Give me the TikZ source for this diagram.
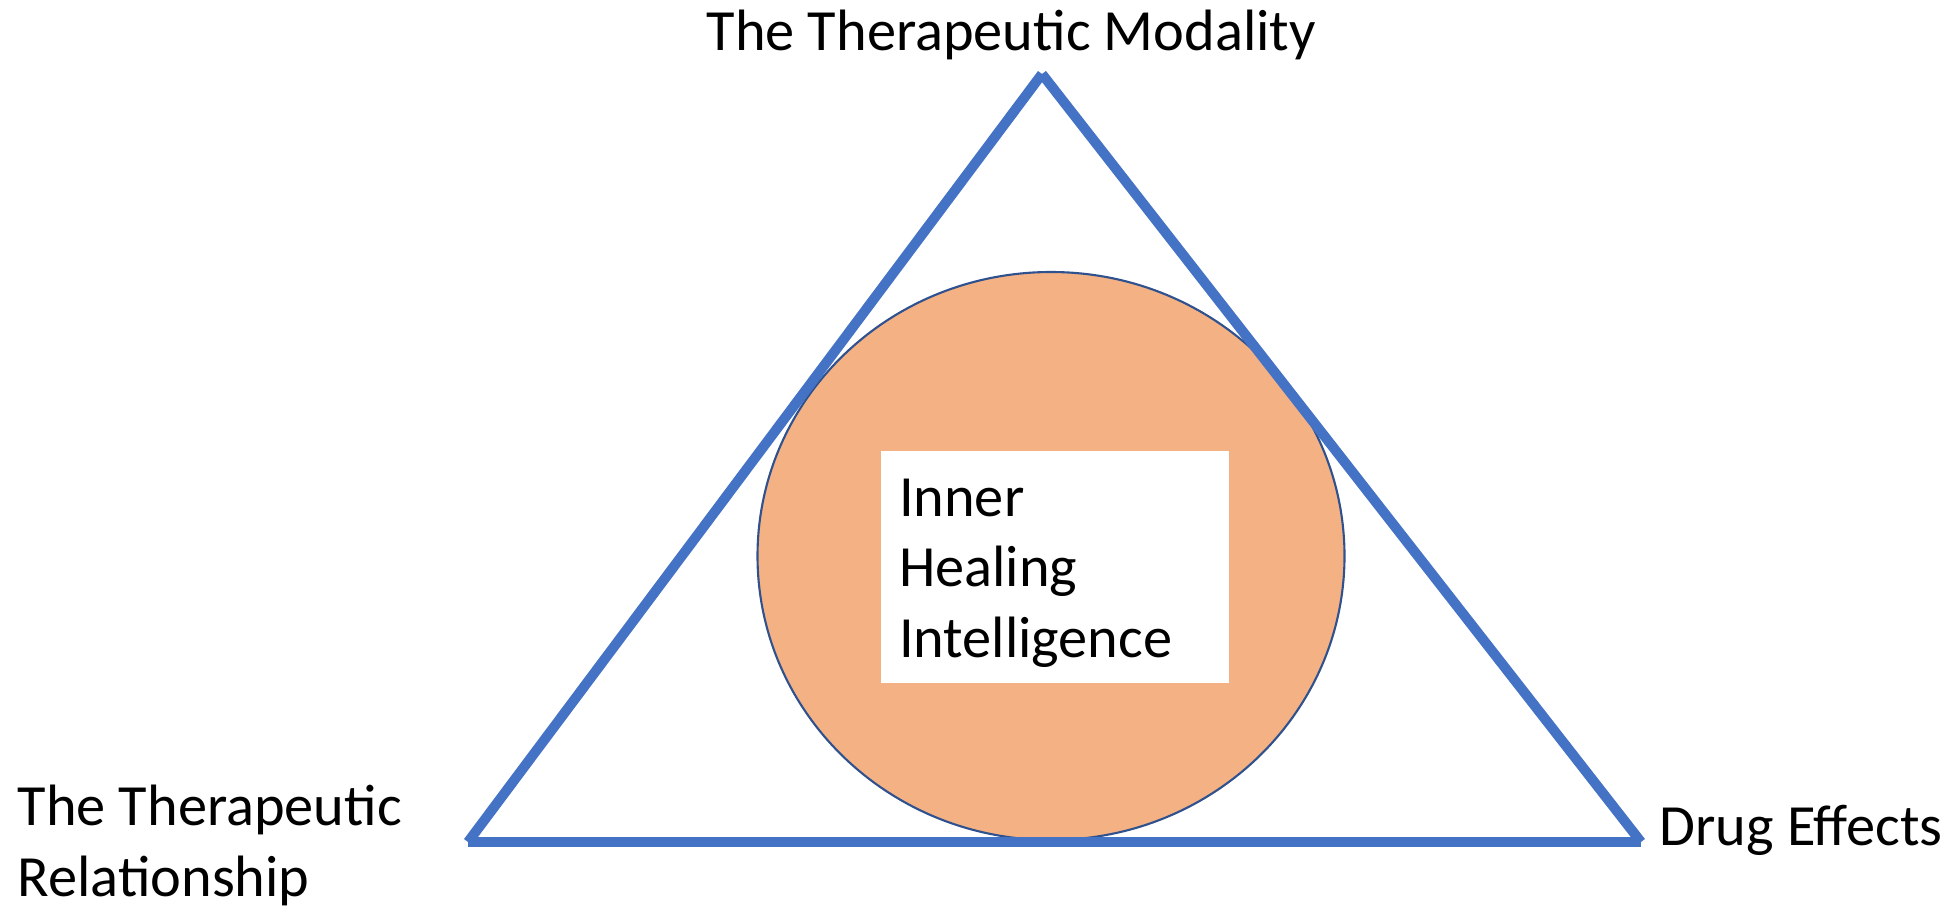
\documentclass[tikz,border=0pt]{standalone}
\usepackage{fontspec}
\setmainfont{Carlito}
\definecolor{triblue}{HTML}{4472C4}
\definecolor{ihiorange}{HTML}{F4B183}
\definecolor{ihiline}{HTML}{2F528F}
\begin{document}
\begin{tikzpicture}[every node/.style={font=\fontsize{16.6}{20.2}\selectfont, inner sep=0pt},
	side/.style={triblue, line width=2.85pt}]
	\useasboundingbox (0,0) rectangle (19.52,9.08);
	\coordinate (apex) at (10.42,8.34);
	\coordinate (baseleft) at (4.68,0.66);
	\coordinate (baseright) at (16.41,0.66);
	\draw[ihiline, fill=ihiorange, line width=0.6pt] (10.51,3.52) ellipse (2.935 and 2.84);
	\draw[side] (baseleft) -- (apex);
	\draw[side] (apex) -- (baseright);
	\draw[side] (baseleft) -- (baseright);
	\node[fill=white, minimum width=3.48cm, minimum height=2.32cm, text width=3.12cm, align=left] (ihi) at (10.55,3.41) {\rule{0pt}{0.50cm}Inner\\Healing\\Intelligence};
	\node[anchor=base west] (modality) at (7.06,8.58) {The Therapeutic Modality};
	\node[anchor=base west, align=left] (relationship) at (0.17,0.12) {The Therapeutic\\Relationship};
	\node[anchor=base west] (drug) at (16.59,0.63) {Drug Effects};
\end{tikzpicture}
\end{document}
